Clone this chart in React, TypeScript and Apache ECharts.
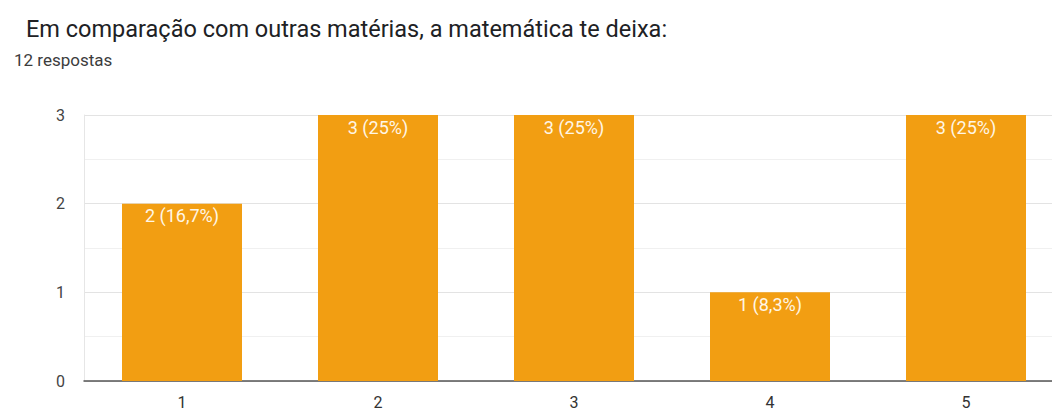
import React, { useEffect, useRef } from "react";
import * as echarts from "echarts";

const titleText = "Em comparação com outras matérias, a matemática te deixa:";
const subtitleText = "12 respostas";
const categories = ["1", "2", "3", "4", "5"];
const counts = [2, 3, 3, 1, 3];
const yTicks = [0, 1, 2, 3];

const total = counts.reduce((a, b) => a + b, 0);

function pctLabel(v: number): string {
  const p = (v / total) * 100;
  const r = Math.round(p * 10) / 10;
  const s = Number.isInteger(r) ? String(r) : r.toFixed(1).replace(".", ",");
  return `${v} (${s}%)`;
}

export default function App() {
  const ref = useRef<HTMLDivElement>(null);

  useEffect(() => {
    if (!ref.current) return;
    const chart = echarts.init(ref.current, undefined, { renderer: "svg" });
    chart.setOption({
      animation: false,
      backgroundColor: "#ffffff",
      textStyle: { fontFamily: "Roboto" },
      title: [
        {
          text: titleText,
          left: 21,
          top: 12,
          textStyle: { fontSize: 23.5, fontWeight: "normal", color: "#202124", fontFamily: "Roboto" },
        },
        {
          text: subtitleText,
          left: 9,
          top: 46,
          textStyle: { fontSize: 17, fontWeight: "normal", color: "#3c3c3c", fontFamily: "Roboto" },
        },
      ],
      // the plot runs a little past the right edge of the canvas
      grid: {
        left: 84,
        width: 980,
        top: 115,
        bottom: 29,
        containLabel: false,
        outerBoundsMode: "none",
      },
      xAxis: {
        type: "category",
        data: categories,
        axisLine: { show: true, lineStyle: { color: "#555555", width: 1.5 } },
        axisTick: { show: false },
        axisLabel: { fontSize: 16, color: "#333333", margin: 13 },
        splitLine: { show: false },
      },
      yAxis: {
        type: "value",
        min: yTicks[0],
        max: yTicks[yTicks.length - 1],
        interval: 1,
        axisLine: { show: true, lineStyle: { color: "#e6e6e6" } },
        axisTick: { show: false },
        axisLabel: { fontSize: 16, color: "#444444", margin: 19 },
        splitLine: { show: true, lineStyle: { color: "#e3e3e3" } },
        minorTick: { show: false, splitNumber: 2 },
        minorSplitLine: { show: true, lineStyle: { color: "#f0f0f0" } },
      },
      series: [
        {
          type: "bar",
          data: counts,
          barWidth: 120,
          itemStyle: { color: "#f29e12" },
          label: {
            show: true,
            position: "insideTop",
            distance: 3,
            color: "#fff6e6",
            fontSize: 18,
            formatter: (p: any) => pctLabel(p.value as number),
          },
        },
      ],
    });
    return () => chart.dispose();
  }, []);

  return (
    <div
      ref={ref}
      style={{ position: "absolute", left: 0, top: 0, width: 1052, height: 410 }}
    />
  );
}
